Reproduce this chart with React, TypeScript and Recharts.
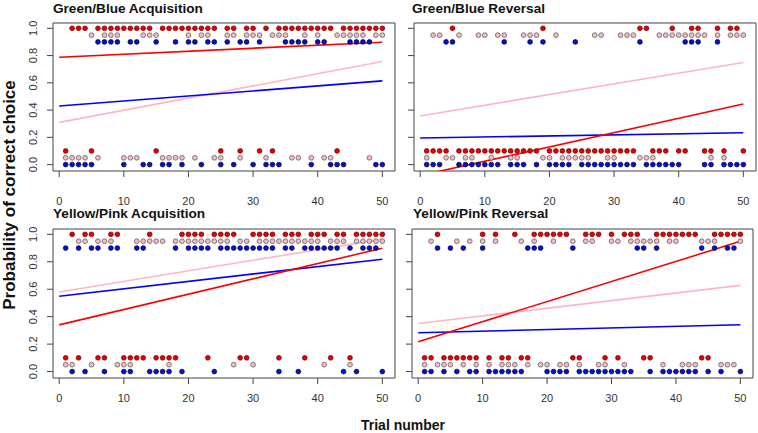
import React from "react";
import { ComposedChart, Scatter, Line, XAxis, YAxis, ReferenceArea } from "recharts";

// Trial numbers (categories on the x axis)
const TRIALS = [
  1, 2, 3, 4, 5, 6, 7, 8, 9, 10, 11, 12, 13, 14, 15, 16, 17, 18, 19, 20,
  21, 22, 23, 24, 25, 26, 27, 28, 29, 30, 31, 32, 33, 34, 35, 36, 37, 38, 39, 40,
  41, 42, 43, 44, 45, 46, 47, 48, 49, 50,
];

// Plotting level of each group's outcome: [incorrect, correct]
const RED_LEVELS = [0.1, 1.0];
const PINK_LEVELS = [0.05, 0.95];
const BLUE_LEVELS = [0.0, 0.9];

const X_TICKS = [0, 10, 20, 30, 40, 50];
const Y_TICKS = [0, 0.2, 0.4, 0.6, 0.8, 1.0];

// Outcome (1 = correct) per trial, per group, per panel
const GB_ACQ_RED = [0,1,1,1,0,1,1,1,1,1, 1,1,1,1,0,1,1,1,1,1, 1,1,1,1,0,1,1,0,1,1, 0,1,0,1,1,1,1,1,1,1, 1,1,0,1,1,1,1,1,1,1];
const GB_ACQ_PINK = [0,0,0,0,1,0,1,1,1,0, 0,0,1,1,1,0,0,0,0,1, 0,1,1,0,0,1,1,0,1,1, 1,0,1,1,1,0,0,1,0,1, 0,0,1,1,1,1,1,0,1,1];
const GB_ACQ_BLUE = [0,0,0,0,0,1,1,1,1,0, 1,1,0,0,1,0,0,1,0,1, 1,0,1,1,0,1,0,1,1,0, 1,0,0,0,1,1,1,1,0,1, 1,0,0,0,1,1,1,1,0,0];

const GB_REV_RED = [0,0,0,0,1,0,0,0,0,0, 0,0,0,0,0,0,0,0,1,0, 0,0,0,0,0,0,0,0,0,0, 0,0,0,1,1,0,0,0,1,0, 0,1,1,0,0,1,0,1,1,0];
const GB_REV_PINK = [0,1,1,0,0,1,0,0,1,1, 0,1,1,0,0,1,1,1,0,0, 1,0,0,0,0,0,1,1,0,0, 1,1,1,0,0,0,1,1,1,1, 1,1,1,1,0,1,0,1,1,1];
const GB_REV_BLUE = [0,0,0,1,1,0,0,0,0,0, 0,0,1,0,0,0,1,0,1,0, 0,0,0,1,0,0,0,0,0,0, 0,0,0,1,0,0,0,0,0,0, 1,1,1,0,0,1,0,0,0,0];

const YP_ACQ_RED = [0,1,0,1,1,0,0,1,1,0, 0,0,0,1,0,0,0,0,1,1, 1,1,0,1,1,1,1,0,0,1, 1,1,1,0,1,1,1,0,1,1, 1,0,1,1,0,1,1,1,1,1];
const YP_ACQ_PINK = [0,0,1,1,0,1,1,1,0,0, 0,1,1,1,1,1,0,1,1,1, 1,1,1,1,1,1,0,1,1,0, 1,1,1,1,1,1,1,1,1,1, 0,1,1,1,0,1,1,1,1,1];
const YP_ACQ_BLUE = [1,0,1,0,1,1,0,1,1,0, 0,1,1,0,0,0,0,1,0,1, 1,1,1,0,1,1,1,1,1,1, 1,1,1,0,1,1,0,1,1,1, 1,1,1,0,1,0,1,1,1,0];

const YP_REV_RED = [0,0,1,0,0,0,0,0,0,1, 0,1,0,0,1,0,0,1,1,1, 1,1,1,0,0,1,1,1,0,1, 0,1,1,1,0,0,1,1,1,1, 1,1,1,0,0,1,1,1,1,1];
const YP_REV_PINK = [0,1,0,0,0,1,0,1,0,1, 0,1,0,0,0,1,0,1,0,0, 1,0,0,1,0,1,1,0,0,1, 1,0,1,1,1,1,1,0,1,1, 0,0,0,1,1,1,0,0,0,1];
const YP_REV_BLUE = [0,0,1,0,1,0,1,0,0,1, 0,0,0,0,0,0,1,1,1,0, 0,0,0,1,0,0,0,0,0,0, 0,0,0,1,1,0,1,0,0,0, 0,0,0,1,0,1,0,1,1,0];

// Fitted regression lines: values at FIT_X
const FIT_X = [0, 50];
const GB_ACQ_FIT_RED = [0.788, 0.898];
const GB_ACQ_FIT_PINK = [0.31, 0.756];
const GB_ACQ_FIT_BLUE = [0.43, 0.614];
const GB_REV_FIT_RED = [-0.08, 0.445];
const GB_REV_FIT_PINK = [0.357, 0.749];
const GB_REV_FIT_BLUE = [0.195, 0.234];
const YP_ACQ_FIT_RED = [0.34, 0.899];
const YP_ACQ_FIT_PINK = [0.58, 0.965];
const YP_ACQ_FIT_BLUE = [0.549, 0.819];
const YP_REV_FIT_RED = [0.217, 0.949];
const YP_REV_FIT_PINK = [0.35, 0.628];
const YP_REV_FIT_BLUE = [0.283, 0.341];

const X_DOMAIN: [number, number] = [-0.96, 51.96];
const Y_DOMAIN: [number, number] = [-0.047, 1.039];

const FONT = "'Liberation Sans', Arial, sans-serif";
const RED = "#ff0000";
const PINK = "#ffb6c1";
const BLUE = "#0000ff";

const toPoints = (outcomes: number[], levels: number[]) =>
  TRIALS.map((t, i) => ({ x: t, y: levels[outcomes[i]] }));
const toFit = (vals: number[]) => FIT_X.map((x, i) => ({ x, y: vals[i] }));

const dot = (fill: string, stroke: string) => (p: any) => (
  <circle cx={p.cx} cy={p.cy} r={2.4} fill={fill} stroke={stroke} strokeWidth={0.7} />
);

type PanelProps = {
  left: number; top: number; boxW: number; boxH: number;
  tickMargin: number; showYLabels: boolean;
  red: number[]; pink: number[]; blue: number[];
  fitRed: number[]; fitPink: number[]; fitBlue: number[];
};

const YTickLabel = (p: any) => (
  <text
    transform={`translate(${p.x - 10},${p.y}) rotate(-90)`}
    textAnchor="middle"
    dominantBaseline="central"
    fontSize={11}
    fontFamily={FONT}
    fill="#333"
  >
    {Number(p.payload.value).toFixed(1)}
  </text>
);

function Panel(props: PanelProps) {
  const yw = 44, mt = 5, mr = 3, mb = 0, xh = 40;
  const W = yw + props.boxW + mr;
  const H = mt + props.boxH + xh + mb;
  return (
    <div style={{ position: "absolute", left: props.left - yw, top: props.top - mt }}>
      <ComposedChart width={W} height={H} margin={{ top: mt, right: mr, bottom: mb, left: 0 }}>
        <XAxis
          type="number" dataKey="x" domain={X_DOMAIN} ticks={X_TICKS} allowDataOverflow
          height={xh} axisLine={false} tickSize={6} tickMargin={props.tickMargin}
          tickLine={{ stroke: "#444" }}
          tick={{ fontSize: 11, fontFamily: FONT, fill: "#333" }}
        />
        <YAxis
          type="number" dataKey="y" domain={Y_DOMAIN} ticks={Y_TICKS} allowDataOverflow
          width={yw} axisLine={false} tickSize={6} tickMargin={4}
          tickLine={{ stroke: "#444" }}
          tick={props.showYLabels ? YTickLabel : () => <g />}
        />
        <Scatter data={toPoints(props.red, RED_LEVELS)} isAnimationActive={false} shape={dot("#e80000", "#600")} />
        <Scatter data={toPoints(props.pink, PINK_LEVELS)} isAnimationActive={false} shape={dot("#f4b9c6", "#555")} />
        <Scatter data={toPoints(props.blue, BLUE_LEVELS)} isAnimationActive={false} shape={dot("#0010d8", "#002")} />
        <Line data={toFit(props.fitPink)} dataKey="y" type="linear" stroke={PINK} strokeWidth={1.6} dot={false} isAnimationActive={false} />
        <Line data={toFit(props.fitBlue)} dataKey="y" type="linear" stroke={BLUE} strokeWidth={1.6} dot={false} isAnimationActive={false} />
        <Line data={toFit(props.fitRed)} dataKey="y" type="linear" stroke={RED} strokeWidth={1.6} dot={false} isAnimationActive={false} />
        <ReferenceArea
          x1={X_DOMAIN[0]} x2={X_DOMAIN[1]} y1={Y_DOMAIN[0]} y2={Y_DOMAIN[1]}
          fill="none" fillOpacity={0} stroke="#444" strokeWidth={1} ifOverflow="visible"
        />
      </ComposedChart>
    </div>
  );
}

const titleStyle = { fontSize: 13.6, fontWeight: 700, fontFamily: FONT, fill: "#111" } as const;

export default function App() {
  return (
    <div style={{ position: "absolute", left: 0, top: 0, width: 758, height: 433, background: "#fff", overflow: "hidden" }}>
      <Panel left={53} top={23} boxW={342} boxH={148} tickMargin={20} showYLabels
        red={GB_ACQ_RED} pink={GB_ACQ_PINK} blue={GB_ACQ_BLUE}
        fitRed={GB_ACQ_FIT_RED} fitPink={GB_ACQ_FIT_PINK} fitBlue={GB_ACQ_FIT_BLUE} />
      <Panel left={414} top={23} boxW={342} boxH={148} tickMargin={20} showYLabels={false}
        red={GB_REV_RED} pink={GB_REV_PINK} blue={GB_REV_BLUE}
        fitRed={GB_REV_FIT_RED} fitPink={GB_REV_FIT_PINK} fitBlue={GB_REV_FIT_BLUE} />
      <Panel left={53} top={229} boxW={342} boxH={149} tickMargin={10} showYLabels
        red={YP_ACQ_RED} pink={YP_ACQ_PINK} blue={YP_ACQ_BLUE}
        fitRed={YP_ACQ_FIT_RED} fitPink={YP_ACQ_FIT_PINK} fitBlue={YP_ACQ_FIT_BLUE} />
      <Panel left={412} top={229} boxW={341} boxH={149} tickMargin={10} showYLabels={false}
        red={YP_REV_RED} pink={YP_REV_PINK} blue={YP_REV_BLUE}
        fitRed={YP_REV_FIT_RED} fitPink={YP_REV_FIT_PINK} fitBlue={YP_REV_FIT_BLUE} />
      <svg width={758} height={433} style={{ position: "absolute", left: 0, top: 0, pointerEvents: "none" }}>
        <text x={53} y={12.5} {...titleStyle}>Green/Blue Acquisition</text>
        <text x={412} y={12.5} {...titleStyle}>Green/Blue Reversal</text>
        <text x={53} y={217.5} {...titleStyle}>Yellow/Pink Acquisition</text>
        <text x={413} y={217.5} {...titleStyle}>Yellow/Pink Reversal</text>
        <text transform="translate(9,195) rotate(-90)" textAnchor="middle" dominantBaseline="central"
          fontSize={17} fontWeight={700} fontFamily={FONT} fill="#111">Probability of correct choice</text>
        <text x={403} y={425} textAnchor="middle" dominantBaseline="central"
          fontSize={14} fontWeight={700} fontFamily={FONT} fill="#111">Trial number</text>
      </svg>
    </div>
  );
}
